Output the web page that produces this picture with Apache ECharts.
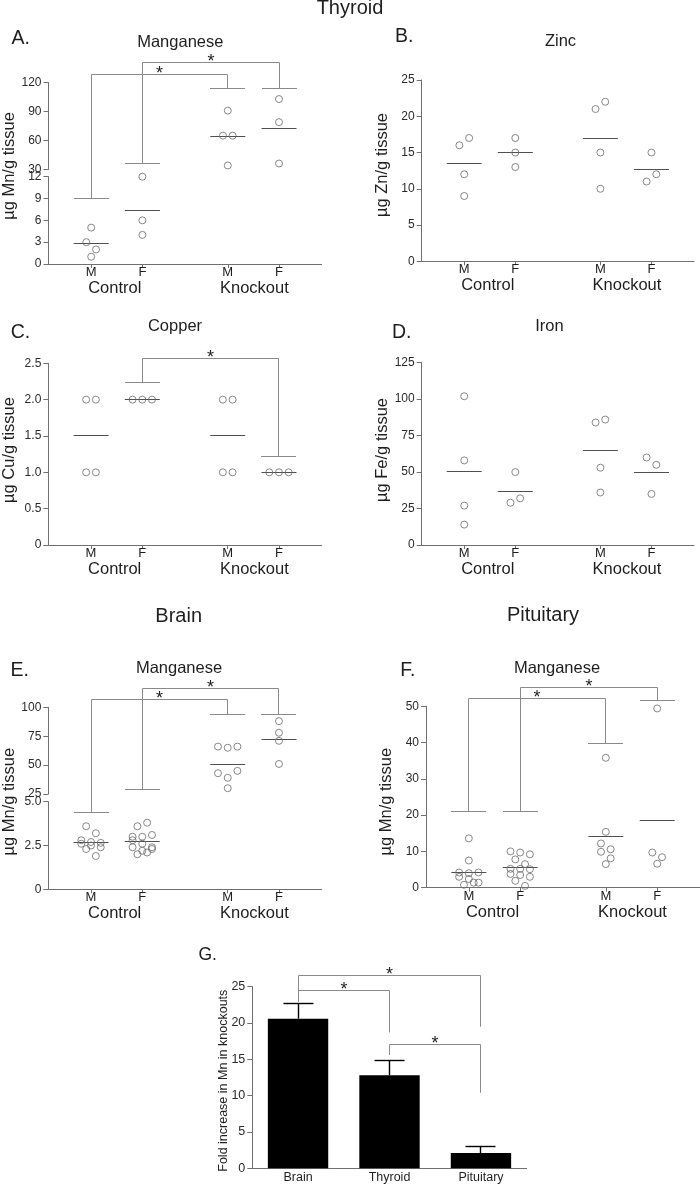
<!DOCTYPE html>
<html><head><meta charset="utf-8">
<script src="https://cdn.jsdelivr.net/npm/echarts@6/dist/echarts.min.js"></script>
<style>html,body{margin:0;padding:0;background:#fff}#main{width:700px;height:1188px}</style>
</head><body><div id="main"></div>
<script>
// ================= DATA =================
const groupSexes = ['M', 'F', 'M', 'F'];
const groupNames = ['Control', 'Knockout'];

// Thyroid – Manganese (µg Mn/g tissue)
const thyMnCtrlM = [5, 3, 2, 1];
const thyMnCtrlF = [12, 6, 4];
const thyMnKoM = [91, 65, 65, 34];
const thyMnKoF = [103, 79, 36];
// Thyroid – Zinc
const thyZnCtrlM = [16, 17, 12, 9];
const thyZnCtrlF = [17, 15, 13];
const thyZnKoM = [21, 22, 15, 10];
const thyZnKoF = [15, 11, 12];
// Thyroid – Copper
const thyCuCtrlM = [2, 2, 1, 1];
const thyCuCtrlF = [2, 2, 2];
const thyCuKoM = [2, 2, 1, 1];
const thyCuKoF = [1, 1, 1];
// Thyroid – Iron
const thyFeCtrlM = [102, 58, 27, 14];
const thyFeCtrlF = [50, 29, 32];
const thyFeKoM = [84, 86, 53, 36];
const thyFeKoF = [60, 55, 35];
// Brain – Manganese
const brainMnCtrlM = [3.6, 3.2, 2.8, 2.7, 2.65, 2.6, 2.5, 2.4, 2.3, 1.9];
const brainMnCtrlF = [3.6, 3.8, 3.0, 3.0, 3.1, 2.8, 2.6, 2.4, 2.4, 2.2, 2.0, 2.1, 2.3];
const brainMnKoM = [66, 65, 66, 43, 39, 45, 30];
const brainMnKoF = [88, 78, 71, 51];
// Pituitary – Manganese
const pitMnCtrlM = [13.6, 7.5, 4.2, 4.0, 4.2, 3.0, 2.4, 1.4, 0.8, 1.4];
const pitMnCtrlF = [10.0, 9.7, 9.2, 7.8, 6.5, 5.2, 5.2, 5.1, 3.8, 3.5, 3.0, 1.9, 0.5];
const pitMnKoM = [35.8, 15.4, 12.2, 10.6, 9.9, 8.1, 6.5];
const pitMnKoF = [49.4, 9.7, 8.4, 6.6];
// Fold increase in Mn in knockouts
const foldCategories = ['Brain', 'Thyroid', 'Pituitary'];
const foldValues = [20.6, 12.8, 2.1];
const foldSem = [2.1, 2.1, 0.85];

// significance brackets: group indices, foot heights and bracket height (axis units)
const thyMnBrackets = [{a: 0, b: 2, footA: 9, footB: 114, top: 129}, {a: 1, b: 3, footA: 36, footB: 114, top: 141}];
const thyCuBrackets = [{a: 1, b: 3, footA: 2.24, footB: 1.22, top: 2.56}];
const brainMnBrackets = [{a: 0, b: 2, footA: 4.37, footB: 94, top: 107}, {a: 1, b: 3, footA: 28.7, footB: 94, top: 116}];
const pitMnBrackets = [{a: 0, b: 2, footA: 21, footB: 39.7, top: 52.1}, {a: 1, b: 3, footA: 21, footB: 51.6, top: 55.2}];
const foldBrackets = [{a: 0, b: 1, endA: 22.9, endB: 18.7, top: 24.45}, {a: 0, b: 2, endA: 23.4, endB: 19.5, top: 26.6}, {a: 1, b: 2, endA: 15.6, endB: 10.4, top: 17}];

// ================= STYLE / LAYOUT =================
const FONT = '"Liberation Sans", Arial, Helvetica, sans-serif';
const AXIS_COLOR = '#707070';
const TEXT_COLOR = '#1e1e1e';
const TICK_TEXT = '#2a2a2a';
const POINT_COLOR = '#6a6a6a';
const MEAN_COLOR = '#505050';
const BRACKET_COLOR = '#8a8a8a';
const SLOTS = 16;
const SPACING = 9.7, ROW_T = 8, ROW_MAX = 3, HALF = 17.5;
const groupSlot = i => (i < 2 ? 2.5 + 3 * i : 10.5 + 3 * (i - 2));
const slotValues = groupSexes.map((_, i) => groupSlot(i));
const oneDecimal = v => (v === 0 ? '0' : v.toFixed(1));

const panels = [
  {letter: 'A.', title: 'Manganese', yName: 'µg Mn/g tissue', groups: [thyMnCtrlM, thyMnCtrlF, thyMnKoM, thyMnKoF], brackets: thyMnBrackets,
   left: 48.5, right: 321.7, segments: [{top: 82.7, bottom: 169.3, min: 30, max: 120, interval: 30}, {top: 176.7, bottom: 264, min: 0, max: 12, interval: 3}],
   titlePos: [180.3, 42.5], letterPos: [11.5, 38.2], yNamePos: [9, 166]},
  {letter: 'B.', title: 'Zinc', yName: 'µg Zn/g tissue', groups: [thyZnCtrlM, thyZnCtrlF, thyZnKoM, thyZnKoF], brackets: [],
   left: 421.7, right: 694, segments: [{top: 80, bottom: 261.3, min: 0, max: 25, interval: 5}],
   titlePos: [560.5, 41.5], letterPos: [395, 36.5], yNamePos: [382, 165]},
  {letter: 'C.', title: 'Copper', yName: 'µg Cu/g tissue', groups: [thyCuCtrlM, thyCuCtrlF, thyCuKoM, thyCuKoF], brackets: thyCuBrackets,
   left: 48.3, right: 321.7, segments: [{top: 363.3, bottom: 545, min: 0, max: 2.5, interval: 0.5, fmt: oneDecimal}],
   titlePos: [175, 326.9], letterPos: [10.7, 332.5], yNamePos: [9, 450]},
  {letter: 'D.', title: 'Iron', yName: 'µg Fe/g tissue', groups: [thyFeCtrlM, thyFeCtrlF, thyFeKoM, thyFeKoF], brackets: [],
   left: 421.7, right: 694, segments: [{top: 362.7, bottom: 545, min: 0, max: 125, interval: 25}],
   titlePos: [549.5, 326.5], letterPos: [392, 332.2], yNamePos: [382, 450]},
  {letter: 'E.', title: 'Manganese', yName: 'µg Mn/g tissue', groups: [brainMnCtrlM, brainMnCtrlF, brainMnKoM, brainMnKoF], brackets: brainMnBrackets,
   left: 48.3, right: 321.7, segments: [{top: 707.3, bottom: 794, min: 25, max: 100, interval: 25}, {top: 801.7, bottom: 889.3, min: 0, max: 5, interval: 2.5, fmt: oneDecimal}],
   titlePos: [179, 668.2], letterPos: [10.5, 670.5], yNamePos: [9, 801.7]},
  {letter: 'F.', title: 'Manganese', yName: 'µg Mn/g tissue', groups: [pitMnCtrlM, pitMnCtrlF, pitMnKoM, pitMnKoF], brackets: pitMnBrackets,
   left: 426, right: 700, segments: [{top: 706.3, bottom: 887.7, min: 0, max: 50, interval: 10}],
   titlePos: [557, 668.2], letterPos: [400.3, 670.5], yNamePos: [386, 801.7]}
];
const sectionTitles = [{text: 'Thyroid', pos: [350, 8.5]}, {text: 'Brain', pos: [178.7, 616.3]}, {text: 'Pituitary', pos: [543, 615.3]}];
const foldLayout = {left: 252.3, top: 986.7, right: 526.7, bottom: 1168.3, letterPos: [198.5, 955.6], yNamePos: [224, 1080.7]};

// ================= AXES =================
const grids = [], xAxes = [], yAxes = [];
panels.forEach(p => {
  p.gridIdx = [];
  p.segments.forEach((s, k) => {
    const last = k === p.segments.length - 1;
    const gi = grids.length;
    grids.push({left: p.left, top: s.top, width: p.right - p.left, height: s.bottom - s.top});
    xAxes.push({type: 'value', gridIndex: gi, min: 0, max: SLOTS, show: last,
      axisLine: {show: true, onZero: false, lineStyle: {color: AXIS_COLOR, width: 1}},
      axisTick: {show: true, customValues: slotValues, length: 4, lineStyle: {color: AXIS_COLOR}},
      axisLabel: {show: true, customValues: slotValues, formatter: v => groupSexes[slotValues.indexOf(v)] || '',
        margin: 2, fontSize: 13, color: TEXT_COLOR, fontFamily: FONT},
      splitLine: {show: false}});
    const yAx = {type: 'value', gridIndex: gi, min: s.min, max: s.max, interval: s.interval,
      axisLine: {show: true, lineStyle: {color: AXIS_COLOR, width: 1}},
      axisTick: {show: true, length: 5, lineStyle: {color: AXIS_COLOR}},
      axisLabel: {fontSize: 12, color: TICK_TEXT, margin: 7, fontFamily: FONT},
      splitLine: {show: false}};
    if (s.fmt) yAx.axisLabel.formatter = s.fmt;
    yAxes.push(yAx);
    p.gridIdx.push(gi);
  });
});
const foldGi = grids.length;
grids.push({left: foldLayout.left, top: foldLayout.top, width: foldLayout.right - foldLayout.left, height: foldLayout.bottom - foldLayout.top});
xAxes.push({type: 'category', gridIndex: foldGi, data: foldCategories,
  axisLine: {lineStyle: {color: AXIS_COLOR, width: 1}}, axisTick: {show: false},
  axisLabel: {fontSize: 12.5, color: TEXT_COLOR, margin: 3, fontFamily: FONT}});
yAxes.push({type: 'value', gridIndex: foldGi, min: 0, max: 25, interval: 5,
  axisLine: {show: true, lineStyle: {color: AXIS_COLOR, width: 1}},
  axisTick: {show: true, length: 5, lineStyle: {color: AXIS_COLOR}},
  axisLabel: {fontSize: 12.5, color: TICK_TEXT, margin: 7, fontFamily: FONT},
  splitLine: {show: false}});

const chart = echarts.init(document.getElementById('main'));
chart.setOption({animation: false, grid: grids, xAxis: xAxes, yAxis: yAxes, series: []});

// ================= MARKS =================
const crisp = v => Math.round(v - 0.5) + 0.5;
function segFor(p, v) {
  for (let k = 0; k < p.segments.length - 1; k++) if (v >= p.segments[k].min) return k;
  return p.segments.length - 1;
}
function toPx(p, xv, v) {
  const gi = p.gridIdx[segFor(p, v)];
  return chart.convertToPixel({xAxisIndex: gi, yAxisIndex: gi}, [xv, v]);
}
const mean = a => a.reduce((s, v) => s + v, 0) / a.length;

const series = [];
const graphics = [];
function text(str, x, y, size, opts) {
  opts = opts || {};
  graphics.push({type: 'text', x: x, y: y, rotation: opts.rotation || 0, silent: true,
    style: {text: str, fontSize: size, fontFamily: FONT, fill: opts.color || TEXT_COLOR,
      align: opts.align || 'center', verticalAlign: 'middle', textAlign: opts.align || 'center', textVerticalAlign: 'middle'}});
}
function line(x1, y1, x2, y2, color, w) {
  graphics.push({type: 'line', silent: true, shape: {x1: x1, y1: y1, x2: x2, y2: y2}, style: {stroke: color, lineWidth: w || 1}});
}

panels.forEach(p => {
  const segPoints = p.segments.map(() => []);
  p.groups.forEach((values, g) => {
    const cx = groupSlot(g);
    const ref = p.segments[p.segments.length - 1].min;
    const pxPerUnit = toPx(p, 1, ref)[0] - toPx(p, 0, ref)[0];
    const items = values.map((v, i) => ({v: v, i: i, py: toPx(p, cx, v)[1], dx: 0}));
    const sorted = items.slice().sort((a, b) => a.py - b.py || a.i - b.i);
    const rows = [];
    let row = null;
    sorted.forEach(it => {
      if (row && it.py - row[0].py < ROW_T && row.length < ROW_MAX) row.push(it);
      else { row = [it]; rows.push(row); }
    });
    rows.forEach(r => {
      r.sort((a, b) => a.i - b.i);
      r.forEach((it, j) => { it.dx = (j - (r.length - 1) / 2) * SPACING; });
    });
    items.forEach(it => segPoints[segFor(p, it.v)].push([cx + it.dx / pxPerUnit, it.v]));
    // mean line
    const m = toPx(p, cx, mean(values));
    line(m[0] - HALF, crisp(m[1]), m[0] + HALF, crisp(m[1]), MEAN_COLOR, 1);
  });
  segPoints.forEach((pts, k) => {
    const gi = p.gridIdx[k];
    series.push({type: 'scatter', xAxisIndex: gi, yAxisIndex: gi, data: pts, symbol: 'circle', symbolSize: 7,
      itemStyle: {color: 'rgba(255,255,255,0)', borderColor: POINT_COLOR, borderWidth: 1}, z: 3, silent: true});
  });
  // brackets
  p.brackets.forEach(b => {
    const xa = crisp(toPx(p, groupSlot(b.a), b.footA)[0]);
    const xb = crisp(toPx(p, groupSlot(b.b), b.footB)[0]);
    const ya = crisp(toPx(p, groupSlot(b.a), b.footA)[1]);
    const yb = crisp(toPx(p, groupSlot(b.b), b.footB)[1]);
    const yt = crisp(toPx(p, groupSlot(b.a), b.top)[1]);
    line(xa - HALF, ya, xa + HALF, ya, BRACKET_COLOR, 1);
    line(xb - HALF, yb, xb + HALF, yb, BRACKET_COLOR, 1);
    graphics.push({type: 'polyline', silent: true, shape: {points: [[xa, ya], [xa, yt], [xb, yt], [xb, yb]]},
      style: {stroke: BRACKET_COLOR, lineWidth: 1, fill: 'none'}});
    text('*', (xa + xb) / 2, yt - 0.8, 18);
  });
  // texts
  text(p.title, p.titlePos[0], p.titlePos[1], 16.5);
  text(p.letter, p.letterPos[0], p.letterPos[1], 19.5, {align: 'left'});
  text(p.yName, p.yNamePos[0], p.yNamePos[1], 16.5, {rotation: Math.PI / 2});
  const axisY = toPx(p, 0, p.segments[p.segments.length - 1].min)[1];
  [0, 1].forEach(k => {
    const x1 = toPx(p, groupSlot(2 * k), 0)[0], x2 = toPx(p, groupSlot(2 * k + 1), 0)[0];
    text(groupNames[k], (x1 + x2) / 2 + (k === 0 ? -2 : 1), axisY + 24.3, 16.5);
  });
});
sectionTitles.forEach(t => text(t.text, t.pos[0], t.pos[1], 20));

// fold-increase bar chart
series.push({type: 'bar', xAxisIndex: foldGi, yAxisIndex: foldGi, data: foldValues, barWidth: '66%',
  itemStyle: {color: '#000'}, z: 2, silent: true});
series.push({type: 'custom', xAxisIndex: foldGi, yAxisIndex: foldGi, silent: true, z: 3,
  data: foldValues.map((v, i) => [i, v, v + foldSem[i]]),
  renderItem: (params, api) => {
    const p0 = api.coord([api.value(0), api.value(1)]);
    const p1 = api.coord([api.value(0), api.value(2)]);
    const x = crisp(p0[0]), yt = crisp(p1[1]);
    return {type: 'group', children: [
      {type: 'line', shape: {x1: x, y1: p0[1], x2: x, y2: yt}, style: {stroke: '#000', lineWidth: 1.4}},
      {type: 'line', shape: {x1: x - 15, y1: yt, x2: x + 15, y2: yt}, style: {stroke: '#000', lineWidth: 1.4}}
    ]};
  }});
const fpx = (i, v) => chart.convertToPixel({xAxisIndex: foldGi, yAxisIndex: foldGi}, [i, v]);
foldBrackets.forEach(b => {
  const pa = fpx(b.a, b.endA), pb = fpx(b.b, b.endB), yt = crisp(fpx(b.a, b.top)[1]);
  const xa = crisp(pa[0]), xb = crisp(pb[0]);
  graphics.push({type: 'polyline', silent: true, shape: {points: [[xa, pa[1]], [xa, yt], [xb, yt], [xb, pb[1]]]},
    style: {stroke: BRACKET_COLOR, lineWidth: 1, fill: 'none'}});
  text('*', (xa + xb) / 2, yt - 0.8, 18);
});
text('G.', foldLayout.letterPos[0], foldLayout.letterPos[1], 17.5, {align: 'left'});
text('Fold increase in Mn in knockouts', foldLayout.yNamePos[0], foldLayout.yNamePos[1], 12.5, {rotation: Math.PI / 2});

chart.setOption({series: series, graphic: graphics});
</script></body></html>
